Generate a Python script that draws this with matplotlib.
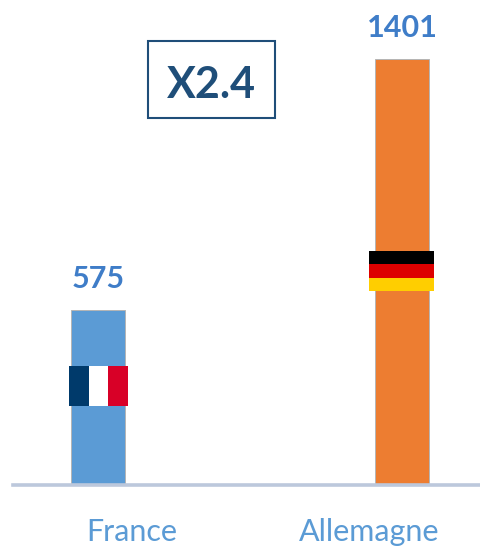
import matplotlib
matplotlib.use('Agg')
import matplotlib.pyplot as plt
from matplotlib.patches import Rectangle

pays = ['France', 'Allemagne']
valeurs = [575, 1401]
couleurs = ['#5B9BD5', '#ED7D31']
ratio = 'X2.4'

W, H = 481, 546
plt.rcParams['font.family'] = ['Lato', 'DejaVu Sans']

fig = plt.figure(figsize=(W / 100, H / 100), dpi=100)

# axes from the baseline up to the top of the image
ax = fig.add_axes([13 / W, (H - 484) / H, (W - 13) / W, 484 / H])
ax.set_xlim(-0.279, 1.258)
ax.set_ylim(0, 1595)
ax.bar(range(2), valeurs, width=0.177, color=couleurs, edgecolor='#B5B5B5', linewidth=0.7)
ax.set_xticks([])
ax.set_yticks([])
for s in ['top', 'left', 'right']:
    ax.spines[s].set_visible(False)
ax.spines['bottom'].set_color('#BCC8DC')
ax.spines['bottom'].set_linewidth(2.6)
ax.spines['bottom'].set_position(('outward', 1))

for i, v in enumerate(valeurs):
    ax.annotate(str(v), (i, v), xytext=(0, 17), textcoords='offset pixels', ha='center',
                va='bottom', fontsize=22, fontweight='bold', color='#3F7DC8')

# overlay in pixels for the flags, box and labels
ov = fig.add_axes([0, 0, 1, 1])
ov.set_xlim(0, W)
ov.set_ylim(H, 0)
ov.axis('off')

def flag(x, y, w, h, cols, vertical):
    n = len(cols)
    for k, c in enumerate(cols):
        if vertical:
            ov.add_patch(Rectangle((x + k * w / n, y), w / n, h, color=c, lw=0))
        else:
            ov.add_patch(Rectangle((x, y + k * h / n), w, h / n, color=c, lw=0))

flag(69, 366, 59, 40, ['#003A6B', '#FFFFFF', '#D80027'], True)
flag(369, 251, 65, 40, ['#000000', '#DD0000', '#FFCE00'], False)

ov.add_patch(Rectangle((148, 41), 127, 77, fill=False, edgecolor='#1F4E79', lw=1.5))
ov.text(211, 85, ratio, ha='center', va='center', fontsize=31, fontweight='bold', color='#1F4E79')

ov.text(132, 532, pays[0], ha='center', va='center', fontsize=22, color='#5B9BD5')
ov.text(369, 532, pays[1], ha='center', va='center', fontsize=22, color='#5B9BD5')

fig.savefig('out.png', dpi=100)
